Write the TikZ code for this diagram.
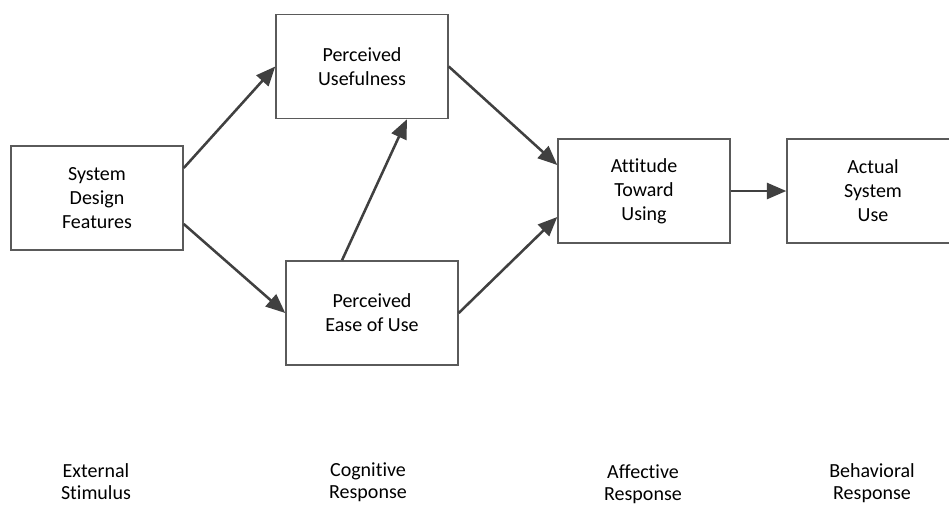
\documentclass[tikz,border=0pt]{standalone}
\usepackage{fontspec}
\setmainfont[Ligatures={NoCommon}]{Carlito}
\usetikzlibrary{arrows.meta,calc}
\definecolor{boxgray}{HTML}{5A5A5A}
\definecolor{arrowgray}{HTML}{404040}
\begin{document}
\begin{tikzpicture}[x=0.75pt,y=-0.75pt,
  box/.style={draw=boxgray, line width=1.1pt, minimum width=129pt, minimum height=78pt,
    align=center, inner sep=0pt, text=black, font=\fontsize{15}{18}\selectfont},
  link/.style={draw=arrowgray, line width=1.9pt, -{Triangle[length=14.5pt,width=12pt]}},
  stage/.style={align=center, inner sep=0pt, text=black, font=\fontsize{15}{16.5}\selectfont}]
  \clip (0,0) rectangle (949,504);
  \fill[white] (0,0) rectangle (949,504);

  % model constructs
  \node[box] (sdf) at (97,198)  {System\\Design\\Features};
  \node[box] (pu)  at (362,66.5) {Perceived\\Usefulness};
  \node[box] (peu) at (372,313) {Perceived\\Ease of Use};
  \node[box] (atu) at (644,191) {Attitude\\Toward\\Using};
  \node[box] (asu) at (873,191) {Actual\\System\\Use};

  % causal links
  \draw[link] ($(sdf.east)+(0,-30)$) -- (pu.west);
  \draw[link] ($(sdf.east)+(0,26)$) -- (peu.west);
  \draw[link] ($(peu.north)+(-30,0)$) -- ($(pu.south)+(45,0)$);
  \draw[link] (pu.east) -- ($(atu.west)+(0,-26)$);
  \draw[link] (peu.east) -- ($(atu.west)+(0,26)$);
  \draw[link] (atu.east) -- (asu.west);

  % response stages
  \node[stage] (s1) at (96,482)  {External\\Stimulus};
  \node[stage] (s2) at (368,482) {Cognitive\\Response};
  \node[stage] (s3) at (643,484) {Affective\\Response};
  \node[stage] (s4) at (872,483) {Behavioral\\Response};
\end{tikzpicture}
\end{document}
